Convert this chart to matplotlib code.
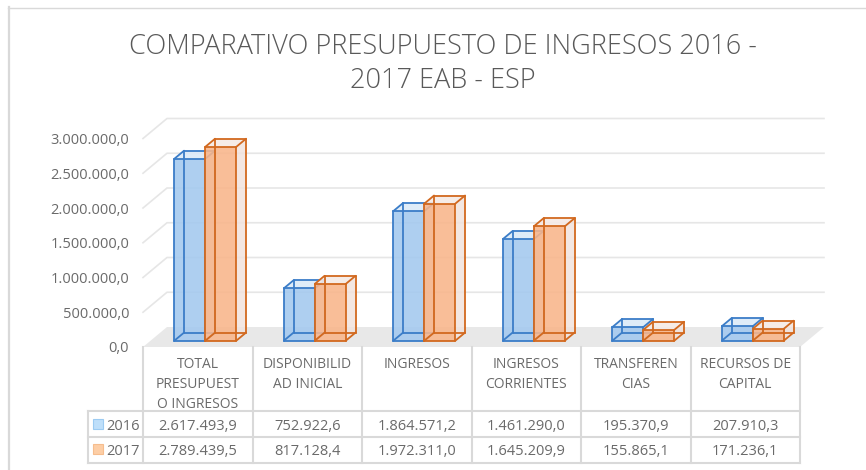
import matplotlib
matplotlib.use("Agg")
import matplotlib.pyplot as plt
import matplotlib.transforms as mtransforms
from matplotlib.patches import Polygon, Rectangle
from matplotlib.lines import Line2D

plt.rcParams['font.family'] = ['Open Sans', 'DejaVu Sans']

# ---------------- data ----------------
title_lines = ["COMPARATIVO PRESUPUESTO DE INGRESOS 2016 -", "2017 EAB - ESP"]
categories = ["TOTAL\nPRESUPUEST\nO INGRESOS", "DISPONIBILID\nAD INICIAL", "INGRESOS",
              "INGRESOS\nCORRIENTES", "TRANSFEREN\nCIAS", "RECURSOS DE\nCAPITAL"]
series_names = ["2016", "2017"]
values_2016 = [2617493.9, 752922.6, 1864571.2, 1461290.0, 195370.9, 207910.3]
values_2017 = [2789439.5, 817128.4, 1972311.0, 1645209.9, 155865.1, 171236.1]
y_ticks = [0, 500000, 1000000, 1500000, 2000000, 2500000, 3000000]

# ---------------- style ----------------
W, H, DPI = 866, 470, 100
TXT = '#595959'
TXT2 = '#6A6A6A'
GRID = '#E6E6E6'
TABLE = '#D9D9D9'
FLOOR = '#E8E8E8'
styles = [
    dict(front='#A3C9EF', side='#CFE2F5', top='#DCEAF8', edge='#3B7DC8', key='#BEDFFA', keyedge='#9CCBF2'),
    dict(front='#F9B58A', side='#F1E3DD', top='#F5EAE5', edge='#D2691F', key='#FDCEA6', keyedge='#F6BD8E'),
]


def es(v):
    s = f"{v:,.1f}"
    return s.replace(',', '#').replace('.', ',').replace('#', '.')


fig = plt.figure(figsize=(W / DPI, H / DPI), dpi=DPI)
fig.patch.set_facecolor('white')
px = mtransforms.Affine2D().scale(1 / W, -1 / H).translate(0, 1) + fig.transFigure

# plot area (front plane)
X0, X1, Y0, Y3 = 143, 800, 347, 138.5
ax = fig.add_axes([X0 / W, 1 - Y0 / H, (X1 - X0) / W, (Y0 - Y3) / H])
ax.set_xlim(0, len(categories))
ax.set_ylim(y_ticks[0], y_ticks[-1])
for s in ax.spines.values():
    s.set_visible(False)
ax.set_xticks([])
ax.set_yticks(y_ticks)
ax.set_yticklabels([es(v) for v in y_ticks])
ax.tick_params(axis='y', length=0, pad=10, labelsize=10.5, labelcolor=TXT2)
ax.patch.set_alpha(0)

# depth (pixels) converted to data units
DXP, DYP = 24, 20
dxd = DXP / ((X1 - X0) / len(categories))
dyd = DYP / ((Y0 - Y3) / (y_ticks[-1] - y_ticks[0]))


def C(x, y, d):
    return (x + d * dxd, y + d * dyd)


n = len(categories)
# floor
ax.add_patch(Polygon([C(0, 0, 0), C(n, 0, 0), C(n, 0, 1), C(0, 0, 1)], closed=True,
                     facecolor=FLOOR, edgecolor='none', clip_on=False, zorder=1))
# gridlines: side wall diagonals + back wall
for v in y_ticks[1:]:
    a, b, c = C(0, v, 0), C(0, v, 1), C(n, v, 1)
    ax.add_line(Line2D([a[0], b[0], c[0]], [a[1], b[1], c[1]], color=GRID, lw=1.2,
                       clip_on=False, zorder=1.5))

# bars
w = 0.283
d0, d1 = 0.32, 0.72


def draw_box(x0, x1, h, st):
    f = [C(x0, 0, d0), C(x1, 0, d0), C(x1, h, d0), C(x0, h, d0)]
    sd = [C(x1, 0, d0), C(x1, 0, d1), C(x1, h, d1), C(x1, h, d0)]
    tp = [C(x0, h, d0), C(x1, h, d0), C(x1, h, d1), C(x0, h, d1)]
    for poly, col, al in ((sd, st['side'], 0.85), (tp, st['top'], 0.9), (f, st['front'], 0.88)):
        ax.add_patch(Polygon(poly, closed=True, facecolor=col, edgecolor='none', alpha=al,
                             clip_on=False, zorder=3))
    xs, ys, ds = (x0, x1), (0, h), (d0, d1)
    edges = []
    for y in ys:
        for d in ds:
            edges.append((C(x0, y, d), C(x1, y, d)))
    for x in xs:
        for d in ds:
            edges.append((C(x, 0, d), C(x, h, d)))
    for x in xs:
        for y in ys:
            edges.append((C(x, y, d0), C(x, y, d1)))
    for p, q in edges:
        ax.add_line(Line2D([p[0], q[0]], [p[1], q[1]], color=st['edge'], lw=1.3,
                           solid_capstyle='round', clip_on=False, zorder=3))


for i in range(n):
    cx = i + 0.5
    draw_box(cx - w, cx, values_2016[i], styles[0])
    draw_box(cx, cx + w, values_2017[i], styles[1])

# ---------------- data table ----------------
bt = mtransforms.blended_transform_factory(ax.transData, px)
T_TOP, T_HDR, T_R1, T_BOT = 347, 411, 437, 463
LEG_L = 88
for i in range(n + 1):
    fig.add_artist(Line2D([i, i], [T_TOP, T_BOT], transform=bt, color=TABLE, lw=1.5))
for y in (T_HDR, T_R1, T_BOT):
    fig.add_artist(Line2D([LEG_L / W, X1 / W], [1 - y / H, 1 - y / H],
                          transform=fig.transFigure, color=TABLE, lw=1.5))
fig.add_artist(Line2D([LEG_L, LEG_L], [T_HDR, T_BOT], transform=px, color=TABLE, lw=1.5))

for i, cat in enumerate(categories):
    for k, line in enumerate(cat.split('\n')):
        fig.text(i + 0.5, 368 + 20 * k, line, transform=bt, ha='center', va='baseline',
                 fontsize=10, color=TXT2)

rows = [values_2016, values_2017]
baselines = [430, 455]
for r, (name, vals) in enumerate(zip(series_names, rows)):
    for i, v in enumerate(vals):
        fig.text(i + 0.5, baselines[r], es(v), transform=bt, ha='center', va='baseline',
                 fontsize=10.5, color=TXT2)
    st = styles[r]
    fig.add_artist(Rectangle((93, baselines[r] - 11), 10, 10, transform=px,
                             facecolor=st['key'], edgecolor=st['keyedge'], lw=0.8))
    fig.text(106, baselines[r], name, transform=px, ha='left', va='baseline',
             fontsize=10.5, color=TXT2)

# ---------------- title ----------------
renderer = fig.canvas.get_renderer()
t1 = fig.text(443, 54, title_lines[0], transform=px, ha='center', va='baseline',
              fontsize=20, color=TXT, fontweight='light')
wpx = t1.get_window_extent(renderer).width
fs = 20 * 627 / wpx
t1.set_fontsize(fs)
fig.text(443, 88, title_lines[1], transform=px, ha='center', va='baseline',
         fontsize=fs, color=TXT, fontweight='light')

# ---------------- chart border ----------------
fig.add_artist(Line2D([8, W], [7.5, 7.5], transform=px, color=TABLE, lw=1.0))
fig.add_artist(Line2D([8.5, 8.5], [7, H], transform=px, color=TABLE, lw=1.6))

fig.savefig('out.png', dpi=DPI, facecolor='white')
